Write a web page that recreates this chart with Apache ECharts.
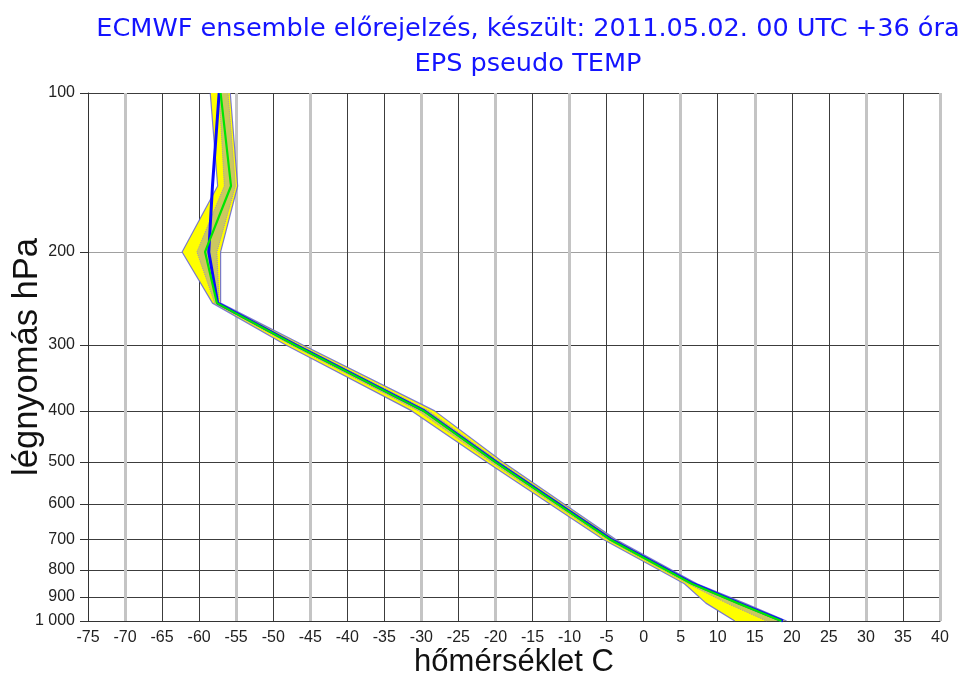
<!DOCTYPE html>
<html>
<head>
<meta charset="utf-8">
<script src="https://cdn.jsdelivr.net/npm/echarts@6/dist/echarts.min.js"></script>
<style>
  html, body { margin: 0; padding: 0; background: #ffffff; }
  #chart { width: 970px; height: 675px; }
</style>
</head>
<body>
<div id="chart"></div>
<script>
// Pressure levels of the pseudo TEMP profile (hPa)
const levels   = [1000, 925, 850, 700, 500, 400, 300, 250, 200, 150, 100];
// Ensemble envelope (coldest / warmest member), °C
const ensMin   = [12.3, 8.4, 5.5, -5.5, -21.2, -31.3, -48.3, -58.2, -62.3, -57.5, -58.5];
const ensMax   = [19.3, 13.6, 7.2, -3.8, -19.0, -28.2, -46.0, -57.1, -57.1, -54.8, -55.8];
// Inner spread of the bulk of the members, °C
const ensLow   = [16.6, 11.2, 6.0, -5.0, -20.6, -30.4, -47.6, -57.9, -60.3, -56.6, -57.3];
const ensHigh  = [18.9, 13.2, 6.9, -4.1, -19.4, -29.0, -46.5, -57.3, -57.6, -55.1, -56.1];
// Ensemble mean and control run, °C
const ensMean  = [18.6, 12.7, 6.5, -4.6, -20.0, -29.7, -47.1, -57.6, -59.2, -55.7, -57.1];
const control  = [18.8, 12.9, 6.7, -4.4, -19.9, -29.6, -47.0, -57.5, -58.7, -58.2, -57.3];

// Axis ticks
const pressureTicks = [100, 200, 300, 400, 500, 600, 700, 800, 900, 1000];
const tempMin = -75, tempMax = 40, tempStep = 5;
// Grid lines that print as soft grey strips
const softTempLines = [-70, -55, -45, -30, -20, -10, 5, 15, 30, 40];
const softPressureLines = [200];

const FONT = 'Liberation Sans, Arial, sans-serif';
const TITLE_FONT = 'DejaVu Sans, sans-serif';

const tempValues = [];
for (let t = tempMin; t <= tempMax; t += tempStep) tempValues.push(t);
const darkLineColors = tempValues.map(t => softTempLines.includes(t) ? 'rgba(0,0,0,0)' : '#3c3c3c');
const softLineColors = tempValues.map(t => softTempLines.includes(t) ? '#c4c4c4' : 'rgba(0,0,0,0)');
const pressureLineColors = pressureTicks.map(p => softPressureLines.includes(p) ? '#a0a0a0' : '#3c3c3c');

function profile(values) {
  return levels.map((p, i) => [values[i], p]);
}

// Filled band between two temperature profiles
function bandSeries(lowVals, highVals, fill, z) {
  return {
    type: 'custom',
    coordinateSystem: 'cartesian2d',
    xAxisIndex: 0,
    yAxisIndex: 0,
    z: z,
    silent: true,
    clip: true,
    data: levels.map((p, i) => [lowVals[i], p, highVals[i]]),
    encode: { x: [0, 2], y: 1 },
    renderItem: function (params, api) {
      if (params.dataIndex !== 0) return null;
      const pts = [];
      for (let i = 0; i < levels.length; i++) pts.push(api.coord([lowVals[i], levels[i]]));
      for (let i = levels.length - 1; i >= 0; i--) pts.push(api.coord([highVals[i], levels[i]]));
      return {
        type: 'polygon',
        shape: { points: pts },
        style: { fill: fill, stroke: null }
      };
    }
  };
}

function lineSeries(values, color, width, type, z) {
  return {
    type: 'line',
    xAxisIndex: 0,
    yAxisIndex: 0,
    data: profile(values),
    showSymbol: false,
    symbol: 'none',
    silent: true,
    z: z,
    lineStyle: { color: color, width: width, type: type || 'solid' },
    animation: false
  };
}

const chart = echarts.init(document.getElementById('chart'), null, { renderer: 'canvas' });

chart.setOption({
  animation: false,
  backgroundColor: '#ffffff',
  title: {
    text: 'ECMWF ensemble előrejelzés, készült: 2011.05.02. 00 UTC +36 óra\nEPS pseudo TEMP',
    left: 523,
    top: 7,
    textAlign: 'center',
    textStyle: {
      color: '#1414ff',
      fontFamily: TITLE_FONT,
      fontSize: 25.6,
      fontWeight: 'normal',
      lineHeight: 35,
      align: 'center'
    }
  },
  grid: { left: 88, right: 30, top: 93, bottom: 54, containLabel: false, outerBoundsMode: 'none' },
  xAxis: [
    {
      type: 'value',
      min: tempMin,
      max: tempMax,
      interval: tempStep,
      name: 'hőmérséklet C',
      nameLocation: 'middle',
      nameGap: 26,
      nameMoveOverlap: false,
      nameTextStyle: { fontFamily: FONT, fontSize: 31, color: '#111111' },
      axisLine: { show: true, onZero: false, lineStyle: { color: '#333333', width: 1 } },
      axisTick: { show: false },
      axisLabel: { fontFamily: FONT, fontSize: 16, color: '#222222', margin: 9 },
      splitLine: { show: true, showMinLine: true, showMaxLine: true, lineStyle: { color: darkLineColors, width: 1 } }
    },
    {
      type: 'value',
      min: tempMin,
      max: tempMax,
      interval: tempStep,
      axisLine: { show: false, onZero: false },
      axisTick: { show: false },
      axisLabel: { show: false },
      splitLine: { show: true, showMinLine: true, showMaxLine: true, lineStyle: { color: softLineColors, width: 3 } }
    }
  ],
  yAxis: [
    {
      type: 'log',
      logBase: 10,
      min: 100,
      max: 1000,
      inverse: true,
      position: 'left',
      name: 'légnyomás hPa',
      nameLocation: 'middle',
      nameRotate: 90,
      nameGap: 43,
      nameMoveOverlap: false,
      nameTextStyle: { fontFamily: FONT, fontSize: 34.5, color: '#111111' },
      axisLine: { show: true, onZero: false, lineStyle: { color: '#333333', width: 1 } },
      axisTick: { show: true, length: 8, customValues: pressureTicks, lineStyle: { color: '#333333' } },
      axisLabel: {
        customValues: pressureTicks,
        fontFamily: FONT,
        fontSize: 16,
        color: '#222222',
        margin: 13,
        formatter: v => (v >= 1000 ? '1 000' : String(v))
      },
      splitLine: { show: true, lineStyle: { color: pressureLineColors, width: 1 } }
    }
  ],
  series: [
    bandSeries(ensMin, ensMax, '#ffff00', 2),
    bandSeries(ensLow, ensHigh, 'rgba(160,155,175,0.55)', 3),
    lineSeries(ensMin, 'rgba(90,90,220,0.8)', 1.2, 'solid', 4),
    lineSeries(ensMax, 'rgba(90,90,220,0.8)', 1.2, 'solid', 4),
    lineSeries(ensLow, '#9d90b8', 1, 'dotted', 5),
    lineSeries(ensHigh, '#9d90b8', 1, 'dotted', 5),
    lineSeries(control, '#0a0aff', 3, 'solid', 6),
    lineSeries(ensMean, '#00e600', 2.2, 'solid', 7)
  ]
});
</script>
</body>
</html>
